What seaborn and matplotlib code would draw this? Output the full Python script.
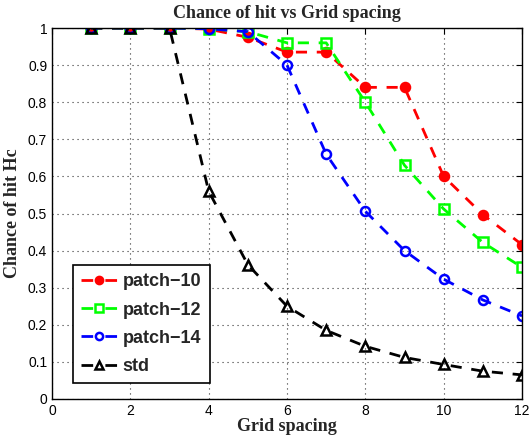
import matplotlib
matplotlib.use("Agg")
import matplotlib.pyplot as plt
import seaborn as sns
import pandas as pd

grid_spacing = [1, 2, 3, 4, 5, 6, 7, 8, 9, 10, 11, 12]
patch10 = [1.0, 1.0, 1.0, 0.997, 0.975, 0.935, 0.935, 0.84, 0.84, 0.60, 0.497, 0.416]
patch12 = [1.0, 1.0, 1.0, 0.998, 0.99, 0.96, 0.96, 0.80, 0.63, 0.512, 0.422, 0.355]
patch14 = [1.0, 1.0, 1.0, 0.998, 0.99, 0.90, 0.66, 0.506, 0.40, 0.323, 0.267, 0.224]
std = [1.0, 1.0, 1.0, 0.56, 0.362, 0.25, 0.185, 0.142, 0.112, 0.093, 0.075, 0.065]
labels = ["patch\u221210", "patch\u221212", "patch\u221214", "std"]

sns.set_style("white")
plt.rcParams['font.family'] = ['Liberation Sans', 'DejaVu Sans']

fig = plt.figure(figsize=(5.29, 4.41), dpi=100)
ax = fig.add_axes([52/529, 1-399/441, 470/529, 371/441])

series = [
    (patch10, labels[0], "#ff0000", "o", "#ff0000"),
    (patch12, labels[1], "#00ff00", "s", "none"),
    (patch14, labels[2], "#0000ff", "o", "none"),
    (std, labels[3], "#000000", "^", "none"),
]
for vals, lab, col, mk, fc in series:
    df = pd.DataFrame({"x": grid_spacing, "y": vals})
    sns.lineplot(data=df, x="x", y="y", ax=ax, color=col, linestyle=(0, (4, 3.5)),
                 linewidth=2, marker=mk, markersize=6.5, markerfacecolor=fc,
                 markeredgecolor=col, markeredgewidth=1.8, label=lab)

ax.set_xlim(0, 12)
ax.set_ylim(0, 1)
ax.set_xticks(range(0, 13, 2))
ax.set_yticks([i / 10 for i in range(11)])
ax.set_yticklabels(["0", "0.1", "0.2", "0.3", "0.4", "0.5", "0.6", "0.7", "0.8", "0.9", "1"])
ax.tick_params(direction="in", length=4, labelsize=10, colors="black", top=True, right=True)
ax.grid(True, linestyle=(0, (1, 3.5)), color="#333333", linewidth=0.8)
for s in ax.spines.values():
    s.set_color("black")
    s.set_linewidth(1)

ax.set_title("Chance of hit vs Grid spacing", fontfamily="Liberation Serif",
             fontweight="bold", fontsize=13, pad=7)
ax.set_xlabel("Grid spacing", fontfamily="Liberation Serif", fontweight="bold", fontsize=13, labelpad=0)
ax.set_ylabel("Chance of hit Hc", fontfamily="Liberation Serif", fontweight="bold", fontsize=13, labelpad=5)

leg = ax.legend(loc="lower left", bbox_to_anchor=(0.045, 0.043), borderaxespad=0,
                prop={"weight": "bold", "size": 13},
                fancybox=False, framealpha=1, edgecolor="black", handlelength=2.0,
                borderpad=0.45, labelspacing=0.62, handletextpad=0.3, markerscale=0.8)
leg.get_frame().set_linewidth(1.2)
for ln in leg.get_lines():
    ln.set_linestyle((0, (4.2, 4.4)))

fig.savefig("out.png", dpi=100)
